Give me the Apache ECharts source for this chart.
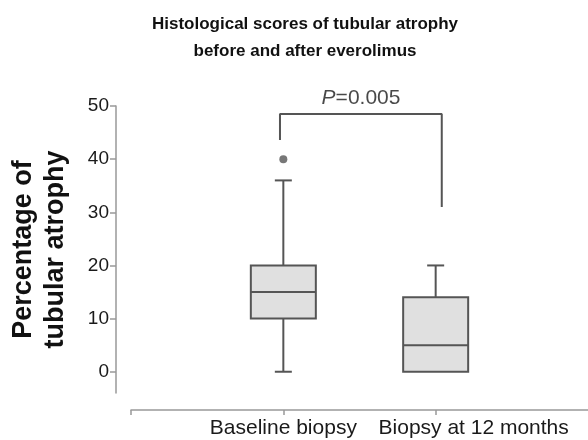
<!DOCTYPE html>
<html>
<head>
<meta charset="utf-8">
<script src="https://cdn.jsdelivr.net/npm/echarts@6/dist/echarts.min.js"></script>
<style>html,body{margin:0;padding:0;background:#fff;}#c{width:588px;height:440px;}</style>
</head>
<body>
<div id="c"></div>
<script>
// ---- data ----
const categories = ['Baseline biopsy', 'Biopsy at 12 months'];
const categoryPositions = [1, 2];
// [min, Q1, median, Q3, max]
const boxStats = [
  [0, 10, 15, 20, 36],
  [0, 0, 5, 14, 20]
];
const outliers = [[1, 40]];
const yTicks = [0, 10, 20, 30, 40, 50];
const bracket = [[0.978, 43.6], [0.978, 48.5], [2.04, 48.5], [2.04, 31]];
const pLabelPos = [1.51, 48.5];
const pText = ['P', '=0.005'];

const boxData = boxStats.map((s, i) => [categoryPositions[i]].concat(s));

const FONT = '"Liberation Sans", Arial, sans-serif';
const LINE = '#555';
const chart = echarts.init(document.getElementById('c'));

function xAxisFor(idx, showLine, padding) {
  return {
    type: 'value', min: 0, max: 3, offset: 17, gridIndex: 0, position: 'bottom',
    splitLine: { show: false },
    axisLine: { show: showLine, onZero: false, lineStyle: { color: '#999', width: 1.5 } },
    axisTick: { show: showLine, length: 5, customValues: [0].concat(categoryPositions), lineStyle: { color: '#999', width: 1.5 } },
    axisLabel: {
      customValues: [categoryPositions[idx]], hideOverlap: false,
      formatter: () => categories[idx],
      fontFamily: FONT, fontSize: 21, color: '#1a1a1a', margin: 8, padding: padding
    }
  };
}

const option = {
  animation: false,
  backgroundColor: '#fff',
  title: {
    text: 'Histological scores of tubular atrophy\nbefore and after everolimus',
    left: 300, textAlign: 'center', top: 6,
    textStyle: { fontFamily: FONT, fontSize: 17, fontWeight: 'bold', color: '#111', lineHeight: 27 }
  },
  grid: { left: 131, right: 0, top: 106, bottom: 47, containLabel: false, outerBoundsMode: 'none' },
  xAxis: [xAxisFor(0, true, [0, 0, 0, 0]), xAxisFor(1, false, [0, 0, 0, 76])],
  yAxis: {
    type: 'value', min: -4, max: 50, offset: 15,
    name: 'Percentage of\ntubular atrophy',
    nameLocation: 'middle', nameRotate: 90, nameGap: 44,
    nameTextStyle: { fontFamily: FONT, fontSize: 27, fontWeight: 'bold', color: '#111', lineHeight: 32 },
    splitLine: { show: false },
    axisLine: { show: true, onZero: false, lineStyle: { color: '#999', width: 1.5 } },
    axisTick: { show: true, length: 6, customValues: yTicks, lineStyle: { color: '#999', width: 1.5 } },
    axisLabel: { customValues: yTicks, fontFamily: FONT, fontSize: 19, color: '#1a1a1a', margin: 7 }
  },
  series: [
    {
      type: 'custom',
      data: boxData,
      encode: { x: 0, y: [1, 2, 3, 4, 5] },
      renderItem: function (params, api) {
        const x = api.value(0);
        const p = i => api.coord([x, api.value(i)]);
        const pMin = p(1), pQ1 = p(2), pMed = p(3), pQ3 = p(4), pMax = p(5);
        const cx = pMin[0];
        const hw = 32.5, cw = 8.5;
        const st = { stroke: LINE, lineWidth: 2, fill: null };
        const children = [];
        if (pMax[1] < pQ3[1] - 0.5) {
          children.push({ type: 'line', shape: { x1: cx, y1: pQ3[1], x2: cx, y2: pMax[1] }, style: st });
          children.push({ type: 'line', shape: { x1: cx - cw, y1: pMax[1], x2: cx + cw, y2: pMax[1] }, style: st });
        }
        if (pMin[1] > pQ1[1] + 0.5) {
          children.push({ type: 'line', shape: { x1: cx, y1: pQ1[1], x2: cx, y2: pMin[1] }, style: st });
          children.push({ type: 'line', shape: { x1: cx - cw, y1: pMin[1], x2: cx + cw, y2: pMin[1] }, style: st });
        }
        children.push({ type: 'rect', shape: { x: cx - hw, y: pQ3[1], width: hw * 2, height: pQ1[1] - pQ3[1] },
          style: { fill: '#e0e0e0', stroke: LINE, lineWidth: 2 } });
        children.push({ type: 'line', shape: { x1: cx - hw, y1: pMed[1], x2: cx + hw, y2: pMed[1] }, style: st });
        return { type: 'group', children: children };
      }
    },
    {
      type: 'scatter', data: outliers, symbolSize: 8,
      itemStyle: { color: LINE }
    },
    {
      type: 'line', data: bracket, symbol: 'none',
      lineStyle: { color: LINE, width: 2 }
    },
    {
      type: 'scatter', data: [pLabelPos], symbolSize: 0,
      label: {
        show: true, position: 'top', distance: 5,
        formatter: '{i|' + pText[0] + '}{n|' + pText[1] + '}',
        rich: {
          i: { fontFamily: FONT, fontSize: 21, fontStyle: 'italic', color: '#1a1a1a' },
          n: { fontFamily: FONT, fontSize: 21, color: '#1a1a1a' }
        }
      }
    }
  ]
};
chart.setOption(option);
</script>
</body>
</html>
